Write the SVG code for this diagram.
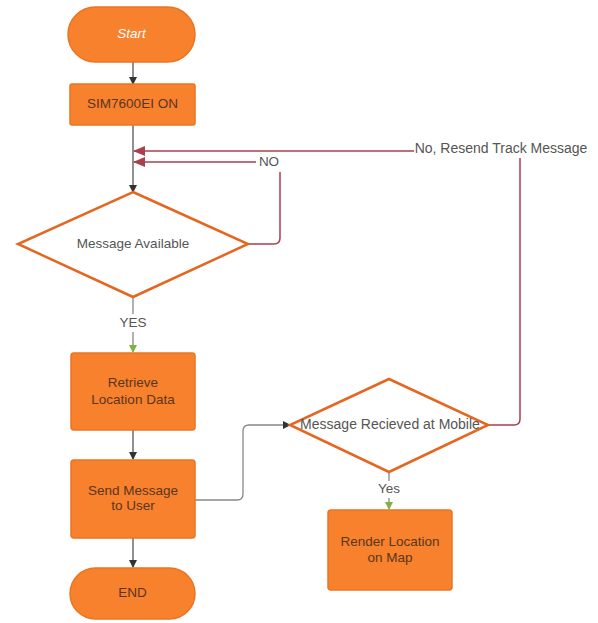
<svg xmlns="http://www.w3.org/2000/svg" width="598" height="623" viewBox="0 0 598 623">
<style>
.box{fill:#f7812c;stroke:#ec7420;stroke-width:1.5}
.dia{fill:#fff;stroke:#e5661f;stroke-width:2.5}
.t{font-family:"Liberation Sans",Arial,sans-serif;font-size:13.5px;text-anchor:middle;dominant-baseline:middle;fill:#5a3520}
.tl{font-family:"Liberation Sans",Arial,sans-serif;font-size:13.5px;text-anchor:middle;dominant-baseline:middle;fill:#555}
.g{fill:none;stroke:#555;stroke-width:1.3}
.r{fill:none;stroke:#a8404e;stroke-width:1.5}
.gr{fill:none;stroke:#888;stroke-width:1.3}
</style>
<defs>
<marker id="ab" markerWidth="8" markerHeight="8" refX="7" refY="4" orient="auto" markerUnits="userSpaceOnUse"><path d="M0,0 L8,4 L0,8 z" fill="#333"/></marker>
<marker id="ar" markerWidth="12" markerHeight="10" refX="11" refY="5" orient="auto" markerUnits="userSpaceOnUse"><path d="M0,0 L12,5 L0,10 z" fill="#a8404e"/></marker>
<marker id="ag" markerWidth="8" markerHeight="8" refX="7" refY="4" orient="auto" markerUnits="userSpaceOnUse"><path d="M0,0 L8,4 L0,8 z" fill="#7cb342"/></marker>
</defs>
<rect width="598" height="623" fill="#fff"/>
<g id="connectors">
<path class="g" d="M133,62 V84" marker-end="url(#ab)"/>
<path class="g" d="M133,125 V192" marker-end="url(#ab)"/>
<path class="r" d="M248,244 H274 Q280,244 280,238 V172"/>
<path class="r" d="M256,162 H134" marker-end="url(#ar)"/>
<path class="r" d="M488,425 H514 Q520,425 520,419 V158"/>
<path class="r" d="M414,151 H134" marker-end="url(#ar)"/>
<path class="gr" d="M133,297 V314"/>
<path class="gr" d="M133,332 V352" marker-end="url(#ag)"/>
<path class="g" d="M133,430 V459" marker-end="url(#ab)"/>
<path class="g" d="M133,538 V567" marker-end="url(#ab)"/>
<path class="gr" d="M195,500 H237 Q243,500 243,494 V431 Q243,425 249,425 H290" marker-end="url(#ab)"/>
<path class="gr" d="M389,472 V481"/>
<path class="gr" d="M389,498 V509" marker-end="url(#ag)"/>
<text class="tl" x="269" y="162">NO</text>
<text class="tl" x="501" y="149" style="font-size:14px">No, Resend Track Message</text>
<text class="tl" x="133" y="323">YES</text>
<text class="tl" x="389" y="489">Yes</text>
</g>
<g id="start"><rect class="box" x="68" y="7" width="127" height="55" rx="27.5"/><text class="t" x="131.5" y="34.5" style="fill:#fff;font-style:italic">Start</text></g>
<g id="sim"><rect class="box" x="70" y="84" width="125" height="41" rx="2"/><text class="t" x="132.5" y="104.5">SIM7600EI ON</text></g>
<g id="available"><polygon class="dia" points="133,192 248,244 133,297 18,244"/><text class="tl" x="133" y="244">Message Available</text></g>
<g id="retrieve"><rect class="box" x="71" y="353" width="124" height="77" rx="3"/><text class="t" x="133" y="383">Retrieve</text><text class="t" x="133" y="400">Location Data</text></g>
<g id="send"><rect class="box" x="71" y="460" width="124" height="78" rx="3"/><text class="t" x="133" y="491">Send Message</text><text class="t" x="133" y="506">to User</text></g>
<g id="end"><rect class="box" x="70" y="568" width="125" height="51" rx="25.5"/><text class="t" x="132.5" y="593.5">END</text></g>
<g id="received"><polygon class="dia" points="389,379 488,425 389,472 290,425"/><text class="tl" x="390" y="425" style="font-size:14px">Message Recieved at Mobile</text></g>
<g id="render"><rect class="box" x="328" y="510" width="124" height="80" rx="3"/><text class="t" x="390" y="542">Render Location</text><text class="t" x="390" y="558">on Map</text></g>
</svg>
